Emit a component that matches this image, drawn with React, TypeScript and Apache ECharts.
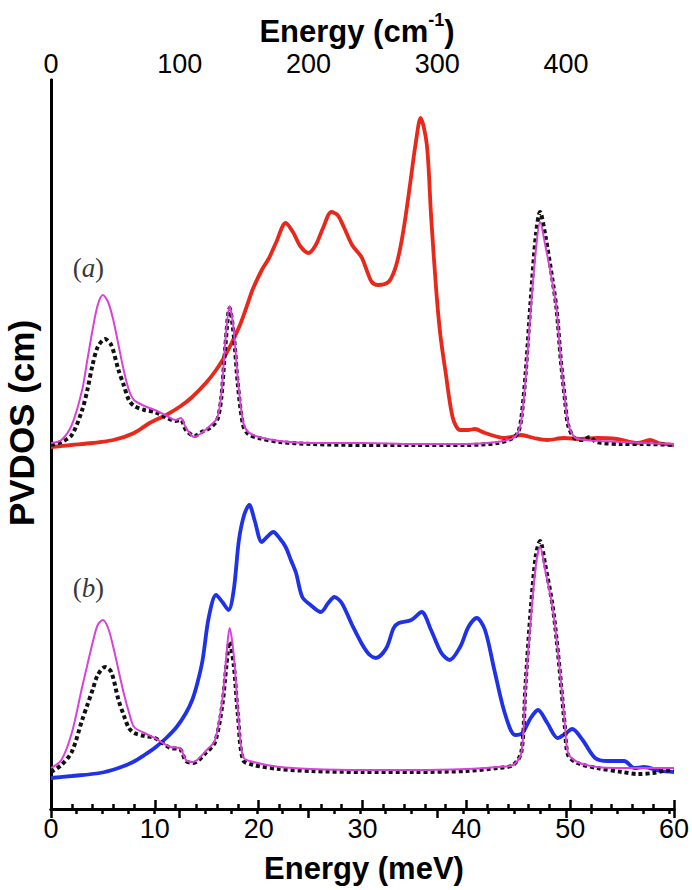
import React, { useEffect, useRef } from "react";
import * as echarts from "echarts";

// Energy (meV) and PVDOS (arbitrary offset units)
const redA: number[][] = [
  [0, 36.2], [2, 36.4], [4, 36.6], [6, 36.9], [8, 37.6], [9.5, 38.6], [11.1, 39.4], [12.5, 40.3],
  [13.6, 41.2], [15, 42.7], [15.9, 43.9], [16.7, 45.2], [17.4, 46.6], [18.2, 48.4], [19, 50.7],
  [19.4, 51.9], [20.3, 53.9], [21, 55.1], [21.7, 56.7], [22.6, 58.6], [23.3, 57.7], [24, 56.3],
  [24.8, 55.6], [25.5, 56.4], [26.2, 58.1], [27, 59.7], [27.6, 59.4], [28.2, 58.2], [29, 56.4],
  [29.9, 55.2], [30.4, 53.9], [30.9, 52.7], [31.5, 52.4], [32.5, 52.7], [33.1, 53.9], [33.6, 55.9],
  [34.1, 58.9], [34.6, 62.6], [35.1, 66.4], [35.6, 69.1], [36.2, 66.4], [36.6, 59.4], [37.1, 51.9],
  [37.5, 47.4], [38, 43.7], [38.7, 39.1], [39.4, 37.9], [40.2, 37.9], [40.8, 38.0], [41.8, 37.6],
  [43.7, 37.1], [45.3, 37.4], [46.5, 37.1], [47.8, 36.9], [49.4, 37.1], [51, 37.0], [52.6, 37.1],
  [54.5, 37.0], [56.5, 36.6], [57.7, 36.9], [58.5, 36.6], [60, 36.4],
];

const pinkA: number[][] = [
  [0, 36.6], [1, 36.9], [2, 38.4], [3, 41.9], [3.5, 44.9], [4, 47.9], [4.5, 50.4], [5, 51.4],
  [5.5, 50.7], [6, 48.9], [6.5, 46.4], [7, 43.9], [7.5, 41.9], [8, 40.9], [9, 40.3], [10, 39.9],
  [11, 39.4], [12, 38.9], [12.5, 39.1], [13, 38.1], [13.8, 37.2], [14.5, 37.6], [15.3, 38.3],
  [16, 39.1], [16.4, 41.4], [16.8, 46.9], [17.2, 50.3], [17.6, 47.9], [18, 42.9], [18.5, 38.7],
  [19, 37.7], [20, 37.2], [22, 36.8], [25, 36.6], [30, 36.6], [35, 36.5], [40, 36.5], [43, 36.7],
  [44.5, 37.1], [45, 37.7], [45.3, 38.9], [45.7, 42.9], [46.2, 49.9], [46.7, 55.9], [47.1, 58.7],
  [47.6, 56.4], [48.3, 52.6], [48.7, 49.9], [49.1, 44.9], [49.5, 40.9], [49.8, 38.6], [50.4, 37.2],
  [51.5, 36.9], [53, 36.8], [55, 36.7], [57, 36.6], [60, 36.5],
];

const blackA: number[][] = [
  [0, 36.4], [1, 36.7], [2, 37.4], [3, 39.9], [3.5, 41.9], [4, 44.4], [4.5, 46.2], [5.2, 47.0],
  [5.8, 46.4], [6.5, 43.9], [7, 42.4], [7.5, 40.9], [8, 40.3], [9, 39.9], [10, 39.7], [11, 39.2],
  [12, 38.8], [12.5, 38.9], [13, 37.9], [13.8, 37.3], [14.5, 37.7], [15.3, 38.1], [16, 38.9],
  [16.4, 41.1], [16.8, 46.4], [17.2, 50.1], [17.6, 47.4], [18, 42.4], [18.5, 38.4], [19, 37.5],
  [20, 37.1], [22, 36.7], [25, 36.5], [30, 36.4], [35, 36.4], [40, 36.4], [43, 36.6], [44.5, 37.1],
  [45, 37.7], [45.3, 39.1], [45.7, 43.4], [46.2, 50.9], [46.7, 57.4], [47.1, 59.7], [47.6, 57.4],
  [48.3, 52.9], [48.7, 49.9], [49.1, 44.9], [49.5, 40.9], [49.8, 38.4], [50.4, 37.1], [51.2, 36.9],
  [51.9, 37.2], [52.5, 36.7], [55, 36.5], [57, 36.5], [60, 36.4],
];

const blueB: number[][] = [
  [0, 3.1], [2, 3.3], [4.7, 3.6], [6.5, 4.1], [7.9, 4.7], [9, 5.4], [10.1, 6.2], [11.1, 7.1],
  [12.1, 8.2], [13, 9.6], [13.6, 10.9], [14.1, 12.6], [14.6, 14.9], [15.2, 19.2], [15.9, 21.4],
  [16.5, 20.7], [17.1, 19.9], [17.6, 21.9], [18.1, 26.9], [18.6, 29.4], [19.1, 30.4], [19.6, 28.9],
  [20.3, 26.7], [20.8, 27.2], [21.4, 27.7], [22, 27.1], [22.6, 26.2], [23.1, 24.9], [23.6, 23.6],
  [24.2, 21.2], [25, 20.4], [26, 19.7], [26.7, 20.6], [27.3, 21.2], [28, 20.6], [29, 18.4],
  [30, 16.4], [30.7, 15.4], [31.3, 15.1], [32.3, 16.1], [33, 18.1], [33.5, 18.6], [34.7, 18.9],
  [35.7, 19.7], [36.6, 17.9], [37.6, 15.6], [38.4, 14.9], [39.4, 16.2], [40.2, 18.2], [41, 19.1],
  [41.8, 17.9], [42.7, 13.9], [43.7, 9.6], [44.7, 7.4], [45.4, 7.6], [46.2, 9.1], [46.9, 9.9],
  [47.8, 8.6], [48.8, 7.1], [49.5, 7.5], [50.2, 8.0], [51.2, 6.9], [52.4, 5.1], [53.6, 4.8],
  [55.2, 4.8], [56.2, 4.1], [57.1, 4.2], [58.7, 3.8], [60, 3.7],
];

const pinkB: number[][] = [
  [0, 4.1], [1, 4.9], [2, 7.6], [3, 12.2], [3.5, 14.4], [4, 16.6], [4.5, 18.4], [5, 18.9],
  [5.5, 18.1], [6, 16.2], [6.5, 13.9], [7, 11.6], [7.5, 9.7], [8, 8.2], [9, 7.6], [10, 7.1],
  [11.5, 6.2], [12.4, 6.1], [13, 4.9], [13.7, 4.7], [15, 5.9], [15.8, 6.9], [16.5, 10.9],
  [16.9, 15.4], [17.2, 18.1], [17.6, 15.4], [18, 9.9], [18.5, 5.2], [19.5, 4.7], [22, 4.2],
  [25, 4.0], [30, 3.9], [35, 3.9], [40, 4.0], [43, 4.2], [44.5, 4.4], [45.3, 5.6], [45.7, 12.2],
  [46.2, 18.9], [46.7, 24.4], [47.1, 26.2], [47.6, 23.9], [48.3, 20.2], [48.7, 16.9], [49.1, 12.9],
  [49.5, 8.4], [49.8, 5.6], [50.7, 4.7], [52.6, 4.2], [55, 4.1], [57, 4.1], [60, 4.1],
];

const blackB: number[][] = [
  [0, 3.7], [1, 4.4], [2, 5.7], [3, 8.9], [3.5, 10.4], [4, 11.9], [4.5, 13.4], [5.2, 14.2],
  [5.8, 13.7], [6.5, 10.9], [7, 9.4], [7.5, 8.1], [8, 7.6], [9, 7.3], [10, 7.1], [11.5, 6.1],
  [12.4, 6.0], [13, 4.8], [13.7, 4.6], [15, 5.7], [15.8, 6.7], [16.5, 10.4], [16.9, 14.4],
  [17.2, 16.7], [17.6, 14.4], [18, 9.4], [18.5, 4.9], [19.5, 4.4], [22, 4.0], [25, 3.8], [30, 3.7],
  [35, 3.7], [40, 3.8], [43, 4.1], [44.5, 4.4], [45.3, 5.7], [45.7, 12.4], [46.2, 19.9], [46.7, 25.4],
  [47.1, 26.8], [47.6, 24.4], [48.3, 20.4], [48.7, 16.9], [49.1, 12.7], [49.5, 8.1], [49.8, 5.4],
  [50.7, 4.6], [52.6, 4.1], [55, 3.7], [56.5, 3.5], [58, 3.6], [59, 3.8], [60, 3.9],
];

const meVTicks = { min: 0, max: 60, interval: 10 };
const cmTicks = { min: 0, max: 60 * 8.06554, interval: 100 };
const yRange = { min: 0, max: 72.9 };
const panelLabels = [
  { text: "a", x: 3.6, y: 54.1 },
  { text: "b", x: 3.6, y: 22.1 },
];

const tickFont = "'Liberation Sans', Arial, sans-serif";

export default function App() {
  const ref = useRef<HTMLDivElement>(null);
  useEffect(() => {
    if (!ref.current) return;
    const chart = echarts.init(ref.current, undefined, { renderer: "svg" });
    const axisLine = { show: true, lineStyle: { color: "#000", width: 3 } };
    const lineSeries = (data: number[][], color: string, width: number, z: number, dashed = false) => ({
      type: "line",
      data,
      xAxisIndex: 0,
      yAxisIndex: 0,
      showSymbol: false,
      smooth: 0.3,
      z,
      lineStyle: dashed
        ? { color, width, type: [4, 3], cap: "butt" }
        : { color, width },
      silent: true,
    });
    chart.setOption({
      animation: false,
      grid: { left: 51, right: 15, top: 80, bottom: 81 },
      xAxis: [
        {
          type: "value",
          position: "bottom",
          ...meVTicks,
          axisLine,
          axisTick: { show: true, inside: true, length: 9, lineStyle: { color: "#000", width: 2.5 } },
          minorTick: { show: true, splitNumber: 5, length: 5, lineStyle: { color: "#000", width: 2.5 } },
          splitLine: { show: false },
          axisLabel: { fontSize: 27, color: "#000", fontFamily: tickFont, margin: 6 },
        },
        {
          type: "value",
          position: "top",
          ...cmTicks,
          axisLine,
          axisTick: { show: true, inside: true, length: 9, lineStyle: { color: "#000", width: 2.5 } },
          minorTick: { show: true, splitNumber: 5, length: 5, lineStyle: { color: "#000", width: 2.5 } },
          splitLine: { show: false },
          axisLabel: {
            fontSize: 27, color: "#000", fontFamily: tickFont, margin: 3,
            formatter: (v: number) => (v > 480 ? "" : String(v)),
          },
        },
      ],
      yAxis: [
        {
          type: "value",
          position: "left",
          ...yRange,
          axisLine,
          axisTick: { show: false },
          axisLabel: { show: false },
          splitLine: { show: false },
        },
        {
          type: "value",
          position: "right",
          ...yRange,
          axisLine,
          axisTick: { show: false },
          axisLabel: { show: false },
          splitLine: { show: false },
        },
      ],
      series: [
        lineSeries(redA, "#e8281a", 3.8, 2),
        lineSeries(blueB, "#1f32e8", 3.8, 2),
        lineSeries(blackA, "#111", 4, 3, true),
        lineSeries(blackB, "#111", 4, 3, true),
        lineSeries(pinkA, "#d842d8", 2, 4),
        lineSeries(pinkB, "#d842d8", 2, 4),
        {
          type: "scatter",
          data: panelLabels.map((p) => [p.x, p.y, p.text]),
          symbolSize: 0,
          silent: true,
          z: 5,
          label: {
            show: true,
            position: "inside",
            formatter: (p: any) => `{p|(}{i|${p.data[2]}}{p|)}`,
            rich: {
              p: { fontSize: 27, fontFamily: "'Liberation Serif', serif", color: "#000" },
              i: { fontSize: 27, fontFamily: "'Liberation Serif', serif", fontStyle: "italic", color: "#000" },
            },
          },
        },
      ],
      graphic: [
        {
          type: "text",
          style: {
            x: 364, y: 868, text: "Energy (meV)", align: "center", verticalAlign: "middle",
            font: `bold 31px ${tickFont}`, fill: "#000",
          },
        },
        {
          type: "text",
          style: {
            x: 357, y: 29, text: "{b|Energy (cm}{s|-1}{b|)}", align: "center", verticalAlign: "middle",
            rich: {
              b: { fontSize: 31, fontWeight: "bold", fontFamily: tickFont, fill: "#000", lineHeight: 36, verticalAlign: "bottom" },
              s: { fontSize: 18, fontWeight: "bold", fontFamily: tickFont, fill: "#000", lineHeight: 36, verticalAlign: "top", padding: [0, 0, 14, 0] },
            },
          },
        },
        {
          type: "text",
          x: 21, y: 423, rotation: Math.PI / 2,
          style: {
            x: 0, y: 0, text: "PVDOS (cm)", align: "center", verticalAlign: "middle",
            font: `bold 35px ${tickFont}`, fill: "#000",
          },
        },
      ],
    });
    return () => chart.dispose();
  }, []);
  return <div ref={ref} style={{ position: "fixed", left: 0, top: 0, width: 692, height: 890, background: "#fff" }} />;
}
